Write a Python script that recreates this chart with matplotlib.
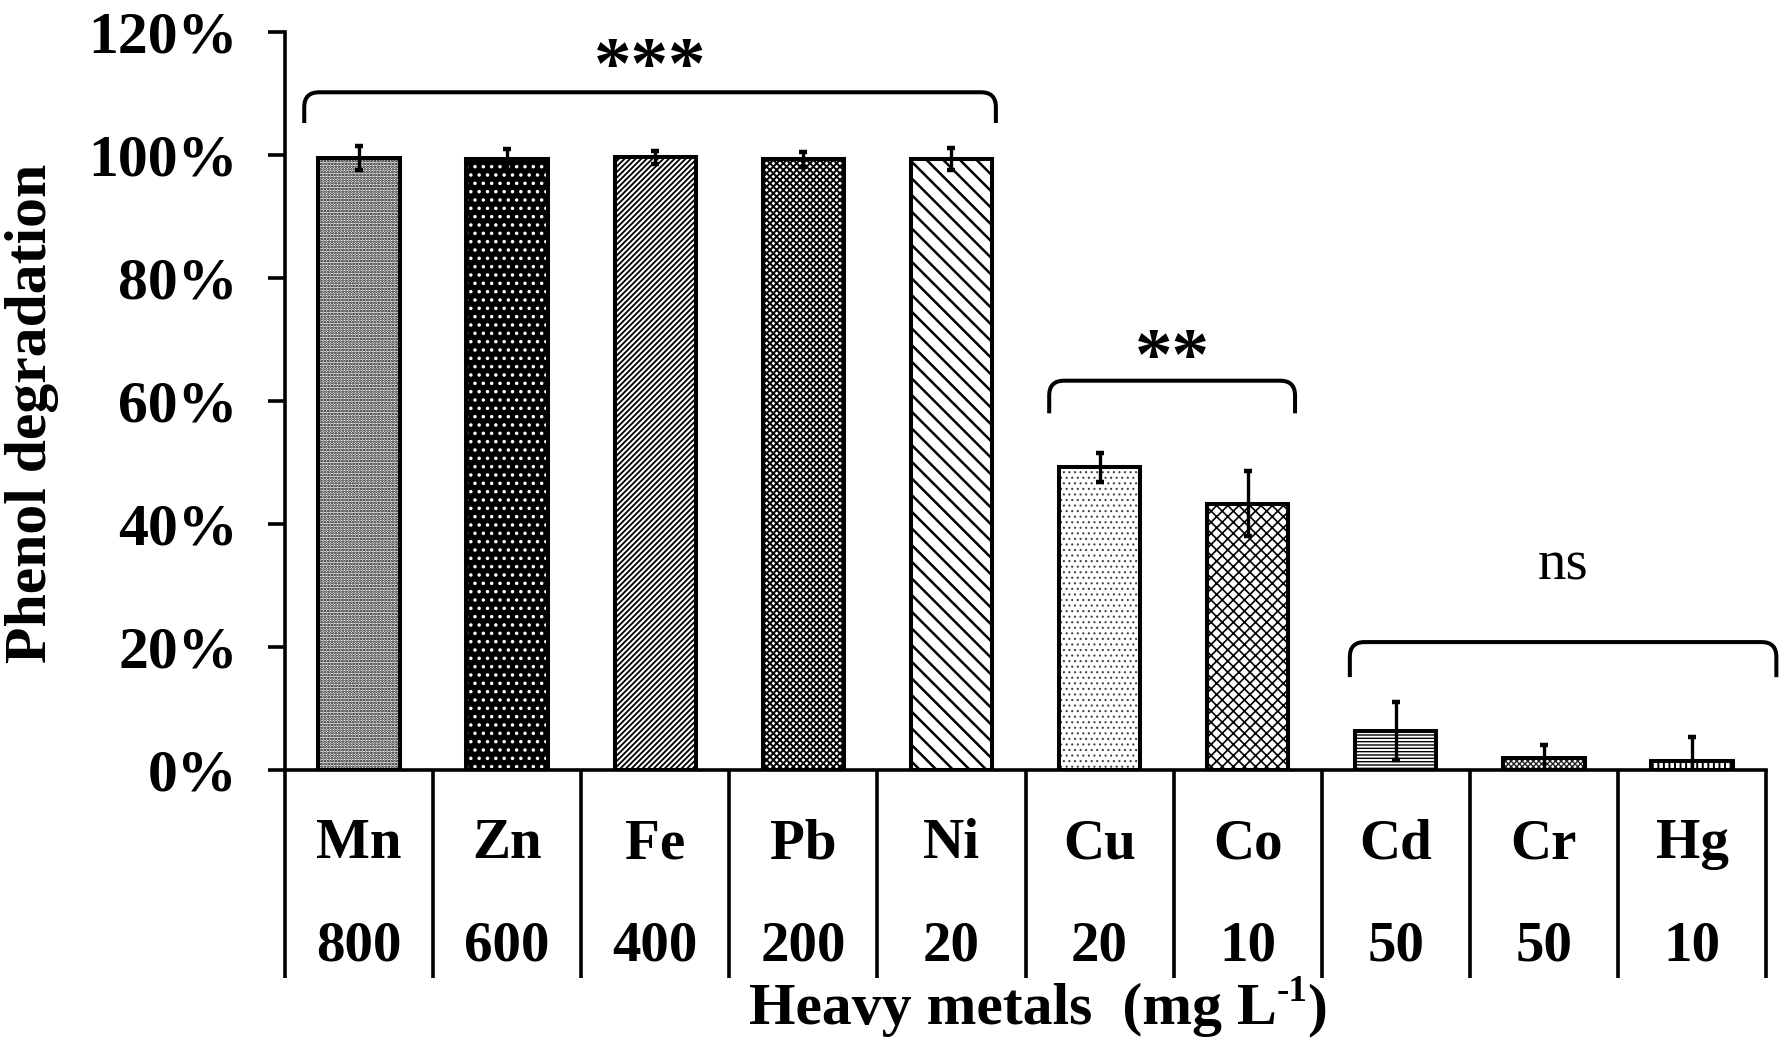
import matplotlib
matplotlib.use("Agg")
import matplotlib.pyplot as plt
from matplotlib.path import Path
from matplotlib.patches import PathPatch
import matplotlib.ticker as mticker

metals = ["Mn", "Zn", "Fe", "Pb", "Ni", "Cu", "Co", "Cd", "Cr", "Hg"]
concs = ["800", "600", "400", "200", "20", "20", "10", "50", "50", "10"]
degradation = [99.5, 99.3, 99.6, 99.3, 99.4, 49.2, 43.3, 6.3, 2.0, 1.5]
errors = [1.9, 1.7, 1.0, 1.2, 1.8, 2.3, 5.3, 4.7, 2.1, 3.9]
hatches = ["......", "..", "//////", "xxxxx", "\\\\", "...", "xxx", "-----", "xxxxxx", "|||"]
hatch_lw = [1.3, 1.3, 1.3, 1.4, 1.8, 0.8, 1.2, 1.0, 1.0, 1.4]
faces = ["white", "black", "white", "white", "white", "white", "white", "white", "white", "white"]
hatch_cols = ["black", "white", "black", "black", "black", "#444444", "black", "black", "#222222", "black"]

groups = [(-0.37, 4.30, 110.2, 105.2, "***", 113.8, True),
          (4.66, 6.32, 63.3, 58.0, "**", 66.5, True),
          (6.69, 9.57, 20.8, 15.1, "ns", 33.3, False)]

plt.rcParams["font.family"] = ["Liberation Serif", "DejaVu Serif"]

W, H = 1789, 1058
fig = plt.figure(figsize=(W / 100, H / 100), dpi=100)
ax = fig.add_axes([285 / W, 1 - 770 / H, (1766 - 285) / W, (770 - 32) / H])

x = list(range(len(metals)))
for i in x:
    with plt.rc_context({"hatch.linewidth": hatch_lw[i]}):
        bars = ax.bar(i, degradation[i], width=0.55, color=faces[i], edgecolor=hatch_cols[i],
                      hatch=hatches[i], linewidth=0, zorder=2)
        for b in bars:
            if hasattr(b, "set_hatch_linewidth"):
                b.set_hatch_linewidth(hatch_lw[i])
    ax.bar(i, degradation[i], width=0.55, fill=False, edgecolor="black",
           linewidth=2.9, zorder=3)
ax.errorbar(x, degradation, yerr=errors, fmt="none", ecolor="black",
            elinewidth=2.4, capsize=3, capthick=3.2, zorder=4)

ax.set_xlim(-0.5, 9.5)
ax.set_ylim(0, 120)
ax.set_yticks(range(0, 121, 20))
ax.yaxis.set_major_formatter(mticker.FuncFormatter(lambda v, p: f"{int(v)}%"))
ax.tick_params(axis="y", length=12, width=2.6, pad=22, labelsize=43)
for lab in ax.get_yticklabels():
    lab.set_fontweight("bold")
ax.set_xticks([])
for s in ["top", "right"]:
    ax.spines[s].set_visible(False)
ax.spines["left"].set_linewidth(2.6)
ax.spines["bottom"].set_linewidth(2.6)

# table below axis
ybot = -33.8
for k in range(len(metals) + 1):
    ax.plot([k - 0.5, k - 0.5], [0, ybot], color="black", lw=2.6, clip_on=False,
            solid_capstyle="butt")
for i in x:
    ax.text(i, -12.1, metals[i], ha="center", va="center", fontsize=41,
            fontweight="bold")
    ax.text(i, -28.7, concs[i], ha="center", va="center", fontsize=41,
            fontweight="bold")

# significance brackets
for x0, x1, yt, yb, lab, ylab, bold in groups:
    dx, dy = 0.1, 2.4
    verts = [(x0, yb), (x0, yt - dy), (x0, yt), (x0 + dx, yt), (x1 - dx, yt),
             (x1, yt), (x1, yt - dy), (x1, yb)]
    codes = [Path.MOVETO, Path.LINETO, Path.CURVE3, Path.CURVE3, Path.LINETO,
             Path.CURVE3, Path.CURVE3, Path.LINETO]
    ax.add_patch(PathPatch(Path(verts, codes), fill=False, lw=2.9,
                           edgecolor="black", clip_on=False, zorder=5))
    ax.text((x0 + x1) / 2, ylab, lab, ha="center", va="center",
            fontsize=54 if bold else 41,
            fontweight="bold" if bold else "normal", clip_on=False)

fig.text(32 / W, 1 - 413 / H, "Phenol degradation", rotation=90, ha="center",
         va="center", fontsize=43, fontweight="bold")

# x label with superscript built from pieces
fig.canvas.draw()
r = fig.canvas.get_renderer()
fs = 43
t1 = fig.text(0, 0, "Heavy metals  (mg L", fontsize=fs, fontweight="bold")
t2 = fig.text(0, 0, "-1", fontsize=fs * 0.62, fontweight="bold")
t3 = fig.text(0, 0, ")", fontsize=fs, fontweight="bold")
w1 = t1.get_window_extent(r).width
w2 = t2.get_window_extent(r).width
w3 = t3.get_window_extent(r).width
total = w1 + w2 + w3
cx, base = 1038, H - 1024
x0p = cx - total / 2
t1.set_position((x0p / W, base / H))
t2.set_position(((x0p + w1) / W, (base + 23) / H))
t3.set_position(((x0p + w1 + w2) / W, base / H))
for t in (t1, t2, t3):
    t.set_va("baseline")

fig.savefig("out.png", dpi=100)
